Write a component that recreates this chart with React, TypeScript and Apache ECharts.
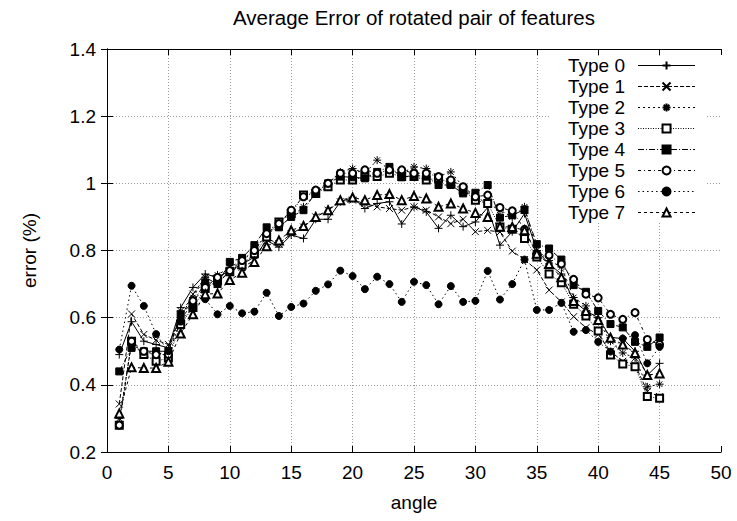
import React, { useEffect, useRef } from "react";
import * as echarts from "echarts";

const FONT = "'Liberation Sans', Arial, Helvetica, sans-serif";

const angles = [1, 2, 3, 4, 5, 6, 7, 8, 9, 10, 11, 12, 13, 14, 15, 16, 17, 18, 19, 20, 21, 22, 23, 24, 25, 26, 27, 28, 29, 30, 31, 32, 33, 34, 35, 36, 37, 38, 39, 40, 41, 42, 43, 44, 45];

const type0 = [0.49, 0.588, 0.53, 0.52, 0.51, 0.63, 0.69, 0.73, 0.72, 0.74, 0.76, 0.78, 0.83, 0.81, 0.846, 0.836, 0.893, 0.893, 0.945, 0.958, 0.925, 0.94, 0.945, 0.879, 0.93, 0.915, 0.866, 0.905, 0.871, 0.885, 0.928, 0.816, 0.856, 0.91, 0.8, 0.76, 0.73, 0.65, 0.62, 0.6, 0.541, 0.538, 0.5, 0.429, 0.464];
const type1 = [0.343, 0.611, 0.55, 0.533, 0.52, 0.6, 0.67, 0.72, 0.7, 0.74, 0.75, 0.77, 0.836, 0.82, 0.85, 0.87, 0.9, 0.92, 0.945, 0.95, 0.94, 0.93, 0.925, 0.92, 0.93, 0.92, 0.9, 0.88, 0.893, 0.856, 0.86, 0.855, 0.798, 0.773, 0.742, 0.682, 0.647, 0.603, 0.57, 0.55, 0.5, 0.47, 0.46, 0.38, 0.365];
const type2 = [0.3, 0.52, 0.5, 0.49, 0.5, 0.62, 0.66, 0.72, 0.727, 0.75, 0.77, 0.8, 0.85, 0.87, 0.9, 0.93, 0.97, 1.0, 1.034, 1.044, 1.03, 1.069, 1.04, 1.03, 1.049, 1.044, 1.02, 1.034, 0.99, 0.96, 0.94, 0.92, 0.9, 0.93, 0.8, 0.77, 0.751, 0.66, 0.635, 0.59, 0.53, 0.495, 0.48, 0.394, 0.402];
const type3 = [0.28, 0.53, 0.49, 0.47, 0.48, 0.58, 0.63, 0.687, 0.71, 0.737, 0.757, 0.79, 0.84, 0.885, 0.91, 0.965, 0.97, 0.99, 1.01, 1.01, 1.02, 1.02, 1.03, 1.02, 1.02, 1.01, 1.015, 1.0, 0.98, 0.95, 0.94, 0.87, 0.863, 0.836, 0.781, 0.73, 0.704, 0.64, 0.605, 0.56, 0.489, 0.462, 0.454, 0.365, 0.36];
const type4 = [0.44, 0.51, 0.5, 0.5, 0.5, 0.61, 0.645, 0.705, 0.7, 0.766, 0.778, 0.816, 0.869, 0.869, 0.9, 0.92, 0.972, 1.0, 1.02, 1.018, 1.015, 1.034, 1.049, 1.018, 1.024, 1.02, 0.995, 0.995, 0.97, 0.972, 0.995, 0.898, 0.905, 0.922, 0.819, 0.806, 0.773, 0.697, 0.677, 0.62, 0.581, 0.571, 0.528, 0.513, 0.541];
const type5 = [0.28, 0.53, 0.5, 0.49, 0.49, 0.59, 0.65, 0.69, 0.72, 0.74, 0.77, 0.8, 0.85, 0.88, 0.92, 0.96, 0.98, 1.0, 1.03, 1.03, 1.04, 1.03, 1.04, 1.04, 1.03, 1.03, 1.02, 1.01, 0.99, 0.96, 0.965, 0.928, 0.918, 0.863, 0.79, 0.786, 0.76, 0.714, 0.67, 0.659, 0.61, 0.595, 0.615, 0.535, 0.52];
const type6 = [0.505, 0.695, 0.635, 0.551, 0.5, 0.59, 0.63, 0.655, 0.61, 0.635, 0.613, 0.618, 0.674, 0.605, 0.632, 0.642, 0.68, 0.699, 0.74, 0.724, 0.685, 0.722, 0.7, 0.647, 0.707, 0.697, 0.64, 0.694, 0.647, 0.65, 0.739, 0.654, 0.7, 0.773, 0.623, 0.623, 0.644, 0.558, 0.563, 0.528, 0.499, 0.538, 0.548, 0.464, 0.513];
const type7 = [0.315, 0.452, 0.45, 0.45, 0.469, 0.553, 0.61, 0.67, 0.672, 0.712, 0.734, 0.766, 0.813, 0.83, 0.86, 0.873, 0.9, 0.92, 0.95, 0.958, 0.95, 0.965, 0.968, 0.95, 0.962, 0.955, 0.93, 0.94, 0.925, 0.912, 0.9, 0.871, 0.87, 0.86, 0.79, 0.76, 0.72, 0.65, 0.62, 0.593, 0.54, 0.52, 0.495, 0.429, 0.434];

const seriesNames = ["Type 0", "Type 1", "Type 2", "Type 3", "Type 4", "Type 5", "Type 6", "Type 7"];
const seriesValues = [type0, type1, type2, type3, type4, type5, type6, type7];

const PLUS = "path://M0,5L10,5M5,0L5,10";
const CROSS = "path://M0,0L10,10M10,0L0,10";
const STAR = "path://M0,5L10,5M5,0L5,10M1.5,1.5L8.5,8.5M8.5,1.5L1.5,8.5";

const styles = [
  { symbol: PLUS, size: 8, dash: "solid" as any },
  { symbol: CROSS, size: 7, dash: [4, 2] },
  { symbol: STAR, size: 8, dash: [2, 3] },
  { symbol: "emptyRect", size: 7, dash: [1, 1.5] },
  { symbol: "rect", size: 7, dash: [6, 2, 1, 2] },
  { symbol: "emptyCircle", size: 7, dash: [3, 3, 1, 3] },
  { symbol: "circle", size: 7, dash: [1.5, 3] },
  { symbol: "emptyTriangle", size: 8, dash: [3, 3] },
];

export default function App() {
  const ref = useRef<HTMLDivElement>(null);
  useEffect(() => {
    document.body.style.margin = "0";
    const chart = echarts.init(ref.current!, undefined, { renderer: "svg" });
    const gridLine = { show: true, lineStyle: { color: "#9a9a9a", type: [1, 2] as any, width: 1 }, showMinLine: false, showMaxLine: false };
    const axisLine = { show: true, lineStyle: { color: "#000", width: 1 } };
    const tick = { show: true, inside: true, length: 6, lineStyle: { color: "#000", width: 1 } };
    const label = { color: "#000", fontSize: 19, fontFamily: FONT };
    chart.setOption({
      animation: false,
      backgroundColor: "#fff",
      grid: { left: 107, right: 16, top: 49, bottom: 69, containLabel: false },
      graphic: [
        {
          type: "rect",
          z: 1,
          shape: { x: 549, y: 57, width: 158, height: 166 },
          style: { fill: "#fff" },
          silent: true,
        },
        {
          type: "text",
          x: 414,
          y: 17,
          z: 5,
          style: {
            text: "Average Error of rotated pair of features",
            fontSize: 20.5,
            fontFamily: FONT,
            fill: "#000",
            textAlign: "center",
            textVerticalAlign: "middle",
            align: "center",
            verticalAlign: "middle",
          },
        },
      ],
      legend: {
        orient: "vertical",
        align: "right",
        left: 563,
        top: 51,
        itemWidth: 57,
        itemHeight: 10,
        itemGap: 2,
        selectedMode: false,
        lineStyle: { width: 1 },
        textStyle: { color: "#000", fontSize: 19, fontFamily: FONT, padding: [0, 8, 0, 0] },
        data: seriesNames,
      },
      xAxis: [
        {
          type: "value",
          min: 0,
          max: 50,
          interval: 5,
          name: "angle",
          nameLocation: "middle",
          nameGap: 41,
          nameTextStyle: { color: "#000", fontSize: 19, fontFamily: FONT },
          axisLine,
          axisTick: tick,
          axisLabel: { ...label, margin: 11 },
          splitLine: gridLine,
        },
        {
          type: "value",
          position: "top",
          min: 0,
          max: 50,
          interval: 5,
          axisLine,
          axisTick: tick,
          axisLabel: { show: false },
          splitLine: { show: false },
        },
      ],
      yAxis: [
        {
          type: "value",
          min: 0.2,
          max: 1.4,
          interval: 0.2,
          name: "error (%)",
          nameLocation: "middle",
          nameGap: 68,
          nameTextStyle: { color: "#000", fontSize: 19, fontFamily: FONT },
          axisLine,
          axisTick: tick,
          axisLabel: { ...label, margin: 11, formatter: (v: number) => String(Math.round(v * 10) / 10) },
          splitLine: gridLine,
        },
        {
          type: "value",
          position: "right",
          min: 0.2,
          max: 1.4,
          interval: 0.2,
          axisLine,
          axisTick: tick,
          axisLabel: { show: false },
          splitLine: { show: false },
        },
      ],
      series: seriesNames.map((name, k) => ({
        name,
        type: "line",
        xAxisIndex: 0,
        yAxisIndex: 0,
        color: "#000",
        data: angles.map((a, i) => [a, seriesValues[k][i]]),
        symbol: styles[k].symbol,
        symbolSize: styles[k].size,
        showAllSymbol: true,
        lineStyle: { color: "#000", width: 1, type: styles[k].dash },
        itemStyle: { color: "#000", borderColor: "#000", borderWidth: 1 },
        emphasis: { disabled: true },
      })),
    });
    return () => chart.dispose();
  }, []);
  return <div ref={ref} style={{ width: 737, height: 521 }} />;
}
